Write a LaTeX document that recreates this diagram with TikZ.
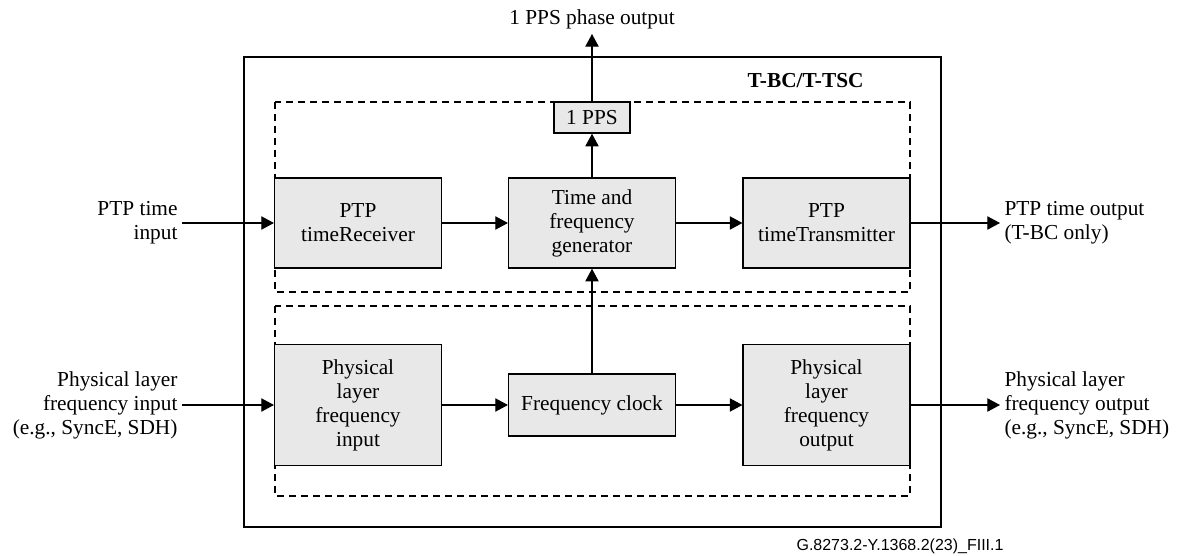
\documentclass[tikz,border=0pt]{standalone}
\usepackage{fontspec}
\setmainfont{Liberation Serif}
\newfontfamily\footfont{Liberation Sans}
\usetikzlibrary{arrows.meta}

\definecolor{boxgrey}{RGB}{232,232,232}

\tikzset{every picture/.style={line width=0.75pt}}
\tikzset{
  >={Triangle[length=9.5pt,width=10pt]},
  blk/.style={draw, line width=1.1pt, fill=boxgrey, align=center, inner sep=0pt},
  wideblk/.style={blk, minimum width=125pt, minimum height=67.5pt},
  lbl/.style={inner sep=3pt},
  grp/.style={line width=0.9pt, dash pattern={on 5.5pt off 3.5pt}},
  conn/.style={->, line width=0.8pt}
}

\begin{document}
\begin{tikzpicture}[x=0.75pt,y=0.75pt,yscale=-1,xscale=1,font=\fontsize{16}{18}\selectfont]
\useasboundingbox (0,0) rectangle (1177,556);

%Shape: Rectangle [id:outer]
\draw [line width=1.1pt] (244,57) rectangle (941,527) ;
%Shape: Rectangle [id:grp upper]
\draw [grp] (275,102) rectangle (910,292) ;
%Shape: Rectangle [id:grp lower]
\draw [grp] (275,306) rectangle (910,496) ;

% Block Nodes
\node [wideblk] (rx) at (358,223) {PTP\\timeReceiver};
\node [wideblk] (tfg) at (592,223) {Time and\\frequency\\generator};
\node [wideblk] (tx) at (826.5,223) {PTP\\timeTransmitter};
\node [blk, minimum width=57pt, minimum height=23.25pt] (pps) at (592,117.5) {1 PPS};
\node [blk, minimum width=125pt, minimum height=90.75pt] (pin) at (358,405) {Physical\\layer\\frequency\\input};
\node [blk, minimum width=125pt, minimum height=46.5pt] (fclk) at (592,405) {Frequency clock};
\node [blk, minimum width=125pt, minimum height=90.75pt] (pout) at (826.5,405) {Physical\\layer\\frequency\\output};

% Text Node
\node [lbl, anchor=south] (ppsout) at (592,34) {1 PPS phase output};
% Text Node
\node [lbl, anchor=east, font=\fontsize{16}{18}\selectfont\bfseries] (tbc) at (868,81) {T-BC/T-TSC};
% Text Node
\node [lbl, anchor=east, align=right] (ptpin) at (182,223) {PTP time\\input};
% Text Node
\node [lbl, anchor=west, align=left] (ptpout) at (1000,223) {PTP time output\\(T-BC only)};
% Text Node
\node [lbl, anchor=east, align=right] (phyin) at (182,405) {Physical layer\\frequency input\\(e.g., SyncE, SDH)};
% Text Node
\node [lbl, anchor=west, align=left] (phyout) at (1000,405) {Physical layer\\frequency output\\(e.g., SyncE, SDH)};
% Text Node
\node [inner sep=0pt, anchor=east, font=\footfont\fontsize{12}{14}\selectfont] (figid) at (1004,546) {G.8273.2-Y.1368.2(23)\_FIII.1};

%Straight Lines [connectors]
\draw [conn] (ptpin.east) -- (rx.west) ;
\draw [conn] (rx.east) -- (tfg.west) ;
\draw [conn] (tfg.east) -- (tx.west) ;
\draw [conn] (tx.east) -- (ptpout.west) ;
\draw [conn] (tfg.north) -- (pps.south) ;
\draw [conn] (pps.north) -- (ppsout.south) ;
\draw [conn] (fclk.north) -- (tfg.south) ;
\draw [conn] (phyin.east) -- (pin.west) ;
\draw [conn] (pin.east) -- (fclk.west) ;
\draw [conn] (fclk.east) -- (pout.west) ;
\draw [conn] (pout.east) -- (phyout.west) ;

\end{tikzpicture}
\end{document}
